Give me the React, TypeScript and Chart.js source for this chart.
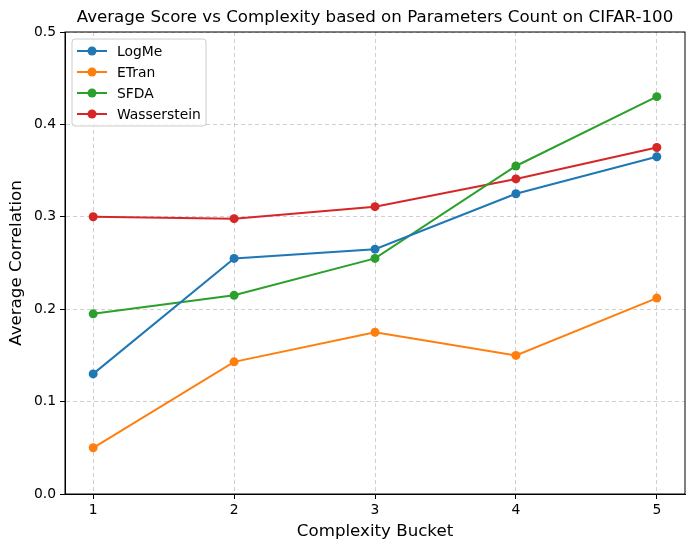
import React, { useEffect, useRef } from "react";
import { Chart, registerables } from "chart.js";

Chart.register(...registerables);

const buckets = [1, 2, 3, 4, 5];
const logMe = [0.13, 0.255, 0.265, 0.325, 0.365];
const eTran = [0.05, 0.143, 0.175, 0.15, 0.212];
const sfda = [0.195, 0.215, 0.255, 0.355, 0.43];
const wasserstein = [0.3, 0.298, 0.311, 0.341, 0.375];
const seriesNames = ["LogMe", "ETran", "SFDA", "Wasserstein"];
const seriesColors = ["#1f77b4", "#ff7f0e", "#2ca02c", "#d62728"];
const yTicks = [0, 0.1, 0.2, 0.3, 0.4, 0.5];
const chartTitle = "Average Score vs Complexity based on Parameters Count on CIFAR-100";

const FONT = "'DejaVu Sans', sans-serif";
const BIG = 16.67;
const SMALL = 13.89;

const framePlugin = {
  id: "frame",
  afterDraw(chart: any) {
    const { ctx, chartArea: a } = chart;
    ctx.save();
    ctx.strokeStyle = "#000";
    ctx.lineWidth = 1;
    ctx.strokeRect(a.left, a.top, a.right - a.left, a.bottom - a.top);
    ctx.font = `${BIG}px ${FONT}`;
    ctx.fillStyle = "#000";
    ctx.textAlign = "center";
    ctx.textBaseline = "middle";
    ctx.fillText(chartTitle, (a.left + a.right) / 2, a.top - 14);
    ctx.restore();
  },
};

const legendPlugin = {
  id: "innerLegend",
  afterDraw(chart: any) {
    const { ctx, chartArea: a } = chart;
    const x0 = a.left + 7;
    const y0 = a.top + 7;
    const w = 134;
    const rowH = 21;
    const h = 87;
    ctx.save();
    ctx.fillStyle = "rgba(255,255,255,0.8)";
    ctx.strokeStyle = "#cccccc";
    ctx.lineWidth = 1;
    ctx.beginPath();
    if (ctx.roundRect) ctx.roundRect(x0, y0, w, h, 3);
    else ctx.rect(x0, y0, w, h);
    ctx.fill();
    ctx.stroke();
    ctx.font = `${SMALL}px ${FONT}`;
    ctx.textBaseline = "middle";
    chart.data.datasets.forEach((ds: any, i: number) => {
      const cy = y0 + 12 + i * rowH;
      ctx.strokeStyle = ds.borderColor;
      ctx.lineWidth = 2;
      ctx.beginPath();
      ctx.moveTo(x0 + 5, cy);
      ctx.lineTo(x0 + 35, cy);
      ctx.stroke();
      ctx.fillStyle = ds.borderColor;
      ctx.beginPath();
      ctx.arc(x0 + 20, cy, 4.5, 0, Math.PI * 2);
      ctx.fill();
      ctx.fillStyle = "#000";
      ctx.fillText(ds.label, x0 + 45, cy + 1);
    });
    ctx.restore();
  },
};

export default function App() {
  const ref = useRef<HTMLCanvasElement>(null);
  useEffect(() => {
    if (!ref.current) return;
    const allSeries = [logMe, eTran, sfda, wasserstein];
    const chart = new Chart(ref.current, {
      type: "line",
      data: {
        datasets: allSeries.map((vals, i) => ({
          label: seriesNames[i],
          data: buckets.map((b, j) => ({ x: b, y: vals[j] })),
          borderColor: seriesColors[i],
          backgroundColor: seriesColors[i],
          borderWidth: 2,
          pointRadius: 4.5,
          pointHoverRadius: 4.5,
          pointBorderWidth: 0,
          tension: 0,
        })),
      },
      options: {
        animation: false,
        responsive: false,
        layout: { padding: { right: 10, top: 32, left: 0, bottom: 0 } },
        plugins: {
          legend: { display: false },
          tooltip: { enabled: false },
          title: { display: false },
        },
        scales: {
          x: {
            type: "linear",
            min: 0.8,
            max: 5.2,
            afterBuildTicks: (s: any) => {
              s.ticks = buckets.map((v) => ({ value: v }));
            },
            afterFit: (s: any) => {
              s.height = 57;
            },
            ticks: {
              color: "#000",
              font: { family: FONT, size: SMALL },
              padding: 3,
              callback: (v: any) => String(v),
            },
            grid: {
              color: "rgba(176,176,176,0.6)",
              tickColor: "#000",
              tickLength: 5,
              tickBorderDash: [],
            },
            border: { color: "#000", dash: [4, 3] },
            title: {
              display: true,
              text: "Complexity Bucket",
              color: "#000",
              font: { family: FONT, size: BIG },
              padding: { top: 2, bottom: 9 },
            },
          },
          y: {
            type: "linear",
            min: 0,
            max: 0.5,
            afterBuildTicks: (s: any) => {
              s.ticks = yTicks.map((v) => ({ value: v }));
            },
            afterFit: (s: any) => {
              s.width = 65;
            },
            ticks: {
              color: "#000",
              font: { family: FONT, size: SMALL },
              padding: 4,
              callback: (v: any) => Number(v).toFixed(1),
            },
            grid: {
              color: "rgba(176,176,176,0.6)",
              tickColor: "#000",
              tickLength: 5,
              tickBorderDash: [],
            },
            border: { color: "#000", dash: [4, 3] },
            title: {
              display: true,
              text: "Average Correlation",
              color: "#000",
              font: { family: FONT, size: BIG },
              padding: { top: 7, bottom: 4 },
            },
          },
        },
      },
      plugins: [framePlugin, legendPlugin],
    } as any);
    return () => chart.destroy();
  }, []);
  return (
    <div style={{ position: "fixed", left: 0, top: 0 }}>
      <canvas ref={ref} width={695} height={551} style={{ width: 695, height: 551, display: "block" }} />
    </div>
  );
}
